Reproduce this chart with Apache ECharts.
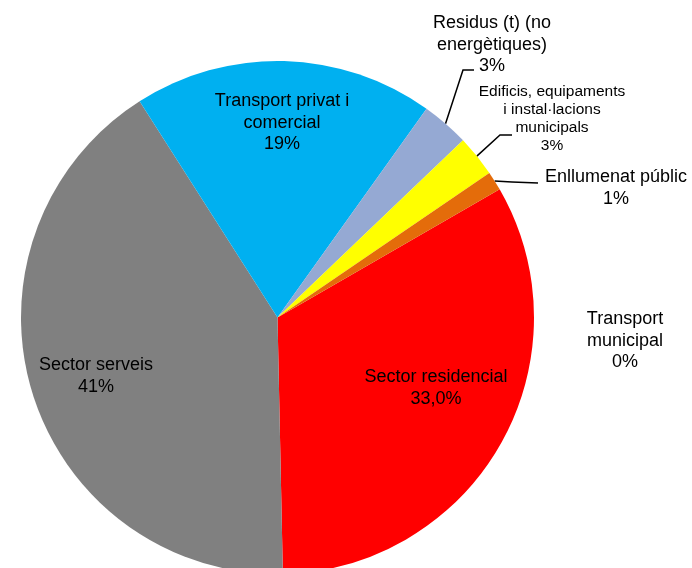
<!DOCTYPE html>
<html>
<head>
<meta charset="utf-8">
<script src="https://cdn.jsdelivr.net/npm/echarts@6/dist/echarts.min.js"></script>
<style>
  html, body { margin: 0; padding: 0; background: #fff; }
  #chart { width: 692px; height: 568px; }
</style>
</head>
<body>
<div id="chart"></div>
<script>
// Emissions share by sector (%), drawn clockwise from the residential slice
const categories = [
  'Sector residencial',
  'Sector serveis',
  'Transport privat i\ncomercial',
  'Residus (t) (no\nenergètiques)',
  'Edificis, equipaments\ni instal·lacions\nmunicipals',
  'Enllumenat públic',
  'Transport\nmunicipal'
];
const shares = [33.0, 41.3, 18.9, 3.0, 2.6, 1.2, 0];
const percentDecimals = [1, 0, 0, 0, 0, 0, 0];

// Presentation
const sliceColors = ['#FF0000', '#808080', '#00B0F0', '#95A9D3', '#FFFF00', '#E46C0A', '#7030A0'];
const labelFontSizes = [18, 18, 18, 18, 15.5, 18, 18];
const labelLineHeights = [21.5, 21.5, 21.5, 21.5, 18, 21.5, 21.5];
const labelCenters = [
  [436, 388], [96, 376], [282, 123], [492, 45], [552, 119], [616, 188], [625, 341]
];
// Leader-line elbow and end for the small outer slices (null = no leader)
const leaderTails = [
  null, null, null,
  [[463, 70], [474, 70]],
  [[500, 135], [512, 135]],
  [[512, 182], [538, 183]],
  null
];

const chart = echarts.init(document.getElementById('chart'), null, { renderer: 'canvas' });

const data = categories.map((name, i) => ({
  name: name,
  value: shares[i],
  itemStyle: { color: sliceColors[i] },
  label: {
    fontSize: labelFontSizes[i],
    lineHeight: labelLineHeights[i]
  },
  labelLine: { show: !!leaderTails[i] }
}));

chart.setOption({
  backgroundColor: '#ffffff',
  animation: false,
  series: [{
    type: 'pie',
    center: [277.5, 317.5],
    radius: 256.5,
    startAngle: 30,
    clockwise: true,
    avoidLabelOverlap: false,
    minShowLabelAngle: 0,
    itemStyle: { borderWidth: 0 },
    emphasis: { disabled: true },
    label: {
      show: true,
      position: 'outside',
      color: '#000000',
      fontFamily: 'Liberation Sans, Arial, sans-serif',
      align: 'center',
      formatter: function (p) {
        const pct = p.percent.toFixed(percentDecimals[p.dataIndex]).replace('.', ',');
        return p.name + '\n' + pct + '%';
      }
    },
    labelLine: {
      show: true,
      length: 10,
      length2: 10,
      lineStyle: { color: '#000000', width: 1.5 }
    },
    labelLayout: function (params) {
      const i = params.dataIndex;
      const c = labelCenters[i];
      const out = { x: c[0], y: c[1], align: 'center', verticalAlign: 'middle' };
      const tail = leaderTails[i];
      if (tail && params.labelLinePoints) {
        out.labelLinePoints = [params.labelLinePoints[0], tail[0], tail[1]];
      }
      return out;
    },
    data: data
  }]
});
</script>
</body>
</html>
